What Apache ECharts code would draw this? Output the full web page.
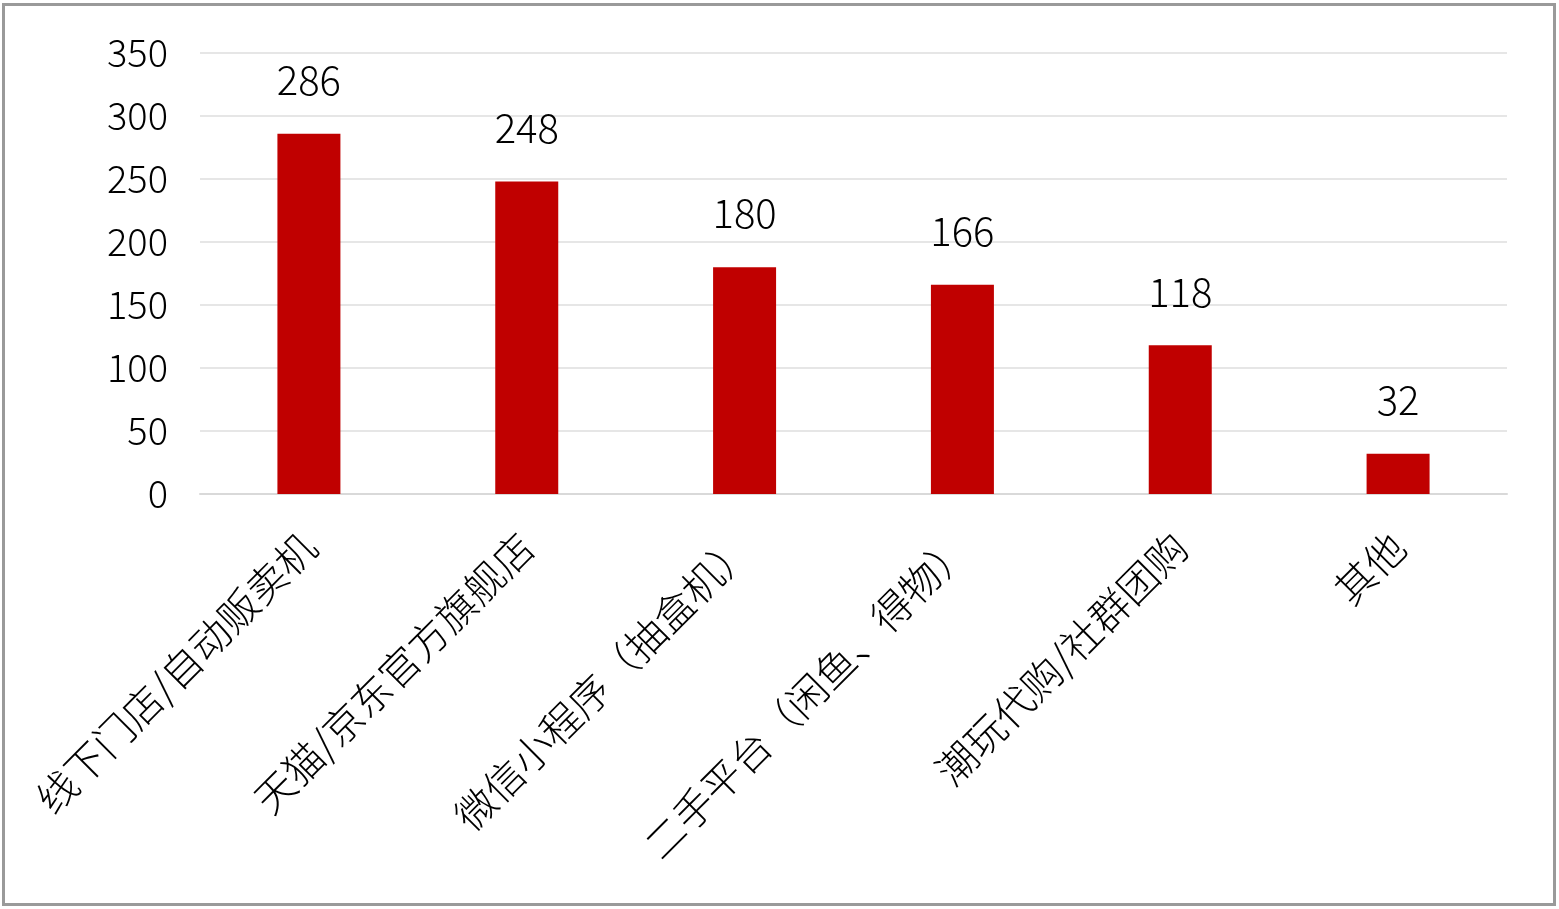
<!DOCTYPE html>
<html><head><meta charset="utf-8">
<script src="https://cdn.jsdelivr.net/npm/echarts@6/dist/echarts.min.js"></script>
<style>
html,body{margin:0;padding:0;background:#fff;}
#c{position:absolute;left:0;top:0;width:1559px;height:909px;}
#b{position:absolute;left:2px;top:3px;width:1548px;height:897px;border:3px solid #9a9a9a;pointer-events:none;}
</style></head>
<body><div id="c"></div><div id="b"></div>
<script>
const categories = ['线下门店/自动贩卖机','天猫/京东官方旗舰店','微信小程序（抽盒机）','二手平台（闲鱼、得物）','潮玩代购/社群团购','其他'];
const values = [286, 248, 180, 166, 118, 32];
const yTicks = [0, 50, 100, 150, 200, 250, 300, 350];
const font = '"Noto Sans CJK SC", "Noto Sans", sans-serif';
const chart = echarts.init(document.getElementById('c'), null, {renderer:'canvas'});
chart.setOption({
  animation:false,
  backgroundColor:'#fff',
  grid:{left:200, right:52, top:53, bottom:415, containLabel:false},
  xAxis:{
    type:'category', data:categories,
    axisLine:{show:true, lineStyle:{color:'#d9d9d9', width:2}},
    axisTick:{show:false},
    axisLabel:{rotate:45, interval:0, color:'#000', fontSize:40, fontWeight:300, fontFamily:font, margin:46}
  },
  yAxis:{
    type:'value', min:yTicks[0], max:yTicks[yTicks.length-1], interval:50,
    axisLine:{show:false}, axisTick:{show:false},
    splitLine:{lineStyle:{color:'#e6e6e6', width:2}},
    axisLabel:{color:'#000', fontSize:38, fontWeight:300, fontFamily:font, margin:32}
  },
  series:[{
    type:'bar', data:values, barWidth:63,
    itemStyle:{color:'#C00000'},
    label:{show:true, position:'top', distance:34, color:'#000', fontSize:40, fontWeight:300, fontFamily:font}
  }]
});
</script></body></html>
